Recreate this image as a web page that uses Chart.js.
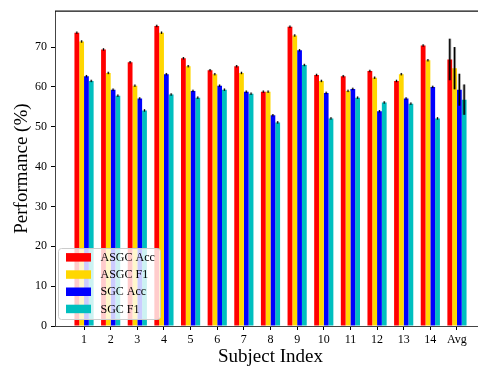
<!DOCTYPE html>
<html>
<head>
<meta charset="utf-8">
<script src="https://cdn.jsdelivr.net/npm/chart.js@4/dist/chart.umd.min.js"></script>
<style>
  html, body { margin: 0; padding: 0; overflow: hidden; background: #fff; }
  #wrap { width: 490px; height: 369px; position: relative; }
</style>
</head>
<body>
<div id="wrap"><canvas id="c"></canvas></div>
<script>
const categories = ['1','2','3','4','5','6','7','8','9','10','11','12','13','14','Avg'];
const seriesNames = ['ASGC Acc', 'ASGC F1', 'SGC Acc', 'SGC F1'];
const asgcAcc = [73.6, 69.4, 66.2, 75.3, 67.2, 64.2, 65.2, 58.8, 75.1, 63.0, 62.7, 64.0, 61.5, 70.4, 66.9];
const asgcF1  = [71.4, 63.5, 60.3, 73.6, 65.2, 63.2, 63.5, 58.8, 72.9, 61.5, 59.0, 62.3, 63.2, 66.7, 64.7];
const sgcAcc  = [62.7, 59.3, 57.1, 63.2, 59.0, 60.3, 58.8, 52.9, 69.2, 58.5, 59.5, 53.9, 57.1, 60.0, 59.3];
const sgcF1   = [61.5, 57.8, 54.1, 58.1, 57.3, 59.3, 58.3, 51.1, 65.5, 52.1, 57.3, 56.1, 55.8, 52.1, 56.8];
const asgcAccErr = [0.3, 0.3, 0.3, 0.3, 0.3, 0.3, 0.3, 0.3, 0.3, 0.3, 0.3, 0.3, 0.3, 0.3, 5.2];
const asgcF1Err  = [0.3, 0.3, 0.3, 0.3, 0.3, 0.3, 0.3, 0.3, 0.3, 0.3, 0.3, 0.3, 0.3, 0.3, 5.3];
const sgcAccErr  = [0.3, 0.3, 0.3, 0.3, 0.3, 0.3, 0.3, 0.3, 0.3, 0.3, 0.3, 0.3, 0.3, 0.3, 4.0];
const sgcF1Err   = [0.3, 0.3, 0.3, 0.3, 0.3, 0.3, 0.3, 0.3, 0.3, 0.3, 0.3, 0.3, 0.3, 0.3, 3.8];
const yTicks = [0, 10, 20, 30, 40, 50, 60, 70];

const colors = ['#ff0000', '#ffd700', '#0000ff', '#00bfbf'];
const values = [asgcAcc, asgcF1, sgcAcc, sgcF1];
const errors = [asgcAccErr, asgcF1Err, sgcAccErr, sgcF1Err];
const FONT = "'Liberation Serif', 'Times New Roman', serif";

const datasets = seriesNames.map((name, k) => ({
  label: name,
  data: values[k].map((v, i) => ({ x: i + 1, y: v })),
  errs: errors[k],
  backgroundColor: colors[k],
  borderWidth: 0,
  categoryPercentage: 0.72,
  barPercentage: 1.0
}));

const errorBarPlugin = {
  id: 'errbars',
  afterDatasetsDraw(chart) {
    const ctx = chart.ctx;
    const y = chart.scales.y;
    chart.data.datasets.forEach((ds, k) => {
      const meta = chart.getDatasetMeta(k);
      meta.data.forEach((bar, i) => {
        const v = ds.data[i].y, e = ds.errs[i];
        const x = bar.x;
        const y1 = y.getPixelForValue(v + e), y2 = y.getPixelForValue(v - e);
        const big = e > 1;
        ctx.save();
        ctx.strokeStyle = big ? 'rgba(0,0,0,0.35)' : 'rgba(0,0,0,0.25)';
        ctx.lineWidth = big ? 3 : 2.5;
        ctx.beginPath(); ctx.moveTo(x, y1); ctx.lineTo(x, y2); ctx.stroke();
        ctx.strokeStyle = '#000';
        ctx.lineWidth = big ? 1.3 : 1;
        ctx.beginPath(); ctx.moveTo(x, y1); ctx.lineTo(x, y2); ctx.stroke();
        ctx.restore();
      });
    });
  }
};

const framePlugin = {
  id: 'frame',
  afterDraw(chart) {
    const ctx = chart.ctx, a = chart.chartArea;
    ctx.save();
    ctx.strokeStyle = '#111';
    ctx.lineWidth = 1.3;
    ctx.beginPath(); ctx.moveTo(a.left, a.top); ctx.lineTo(a.right, a.top); ctx.stroke();
    // legend
    const bx = 58.5, by = 248.5, bw = 102, bh = 71, r = 3;
    ctx.fillStyle = 'rgba(255,255,255,0.8)';
    ctx.strokeStyle = '#cccccc';
    ctx.lineWidth = 1;
    ctx.beginPath();
    ctx.moveTo(bx + r, by);
    ctx.lineTo(bx + bw - r, by); ctx.arcTo(bx + bw, by, bx + bw, by + r, r);
    ctx.lineTo(bx + bw, by + bh - r); ctx.arcTo(bx + bw, by + bh, bx + bw - r, by + bh, r);
    ctx.lineTo(bx + r, by + bh); ctx.arcTo(bx, by + bh, bx, by + bh - r, r);
    ctx.lineTo(bx, by + r); ctx.arcTo(bx, by, bx + r, by, r);
    ctx.closePath(); ctx.fill(); ctx.stroke();
    ctx.font = '12px ' + FONT;
    ctx.textBaseline = 'middle';
    ctx.textAlign = 'left';
    chart.data.datasets.forEach((ds, k) => {
      const cy = 257.3 + k * 17.2;
      ctx.fillStyle = ds.backgroundColor;
      ctx.fillRect(66, cy - 4.2, 25, 8.5);
      ctx.fillStyle = '#000';
      ctx.fillText(ds.label, 100.5, cy + 0.5);
    });
    ctx.restore();
  }
};

new Chart(document.getElementById('c'), {
  type: 'bar',
  data: { datasets },
  options: {
    responsive: true,
    maintainAspectRatio: false,
    animation: false,
    devicePixelRatio: 1,
    layout: { padding: { top: 6, right: 4, left: 0, bottom: 0 } },
    plugins: { legend: { display: false }, tooltip: { enabled: false } },
    scales: {
      x: {
        type: 'linear',
        min: -0.09,
        max: 16.09,
        offset: false,
        afterBuildTicks: (s) => { s.ticks = categories.map((c, i) => ({ value: i + 1 })); },
        afterFit: (s) => { s.height = 43; },
        ticks: {
          autoSkip: false,
          maxRotation: 0,
          padding: 3,
          color: '#000',
          font: { family: FONT, size: 12 },
          callback: (v) => categories[Math.round(v) - 1]
        },
        grid: { offset: false, drawOnChartArea: false, drawTicks: true, tickLength: 4, tickColor: '#000' },
        border: { display: true, color: '#444', width: 1 },
        title: { display: true, text: 'Subject Index', color: '#000',
                 font: { family: FONT, size: 19 }, padding: { top: 0, bottom: 1 } }
      },
      y: {
        min: 0,
        max: 79,
        afterBuildTicks: (s) => { s.ticks = yTicks.map(v => ({ value: v })); },
        afterFit: (s) => { s.width = 55; },
        ticks: { padding: 4, color: '#000', font: { family: FONT, size: 12 } },
        grid: { drawOnChartArea: false, drawTicks: true, tickLength: 4, tickColor: '#000' },
        border: { display: true, color: '#444', width: 1 },
        title: { display: true, text: 'Performance (%)', color: '#000',
                 font: { family: FONT, size: 19 }, padding: { top: 10.5, bottom: 0 } }
      }
    }
  },
  plugins: [errorBarPlugin, framePlugin]
});
</script>
</body>
</html>
